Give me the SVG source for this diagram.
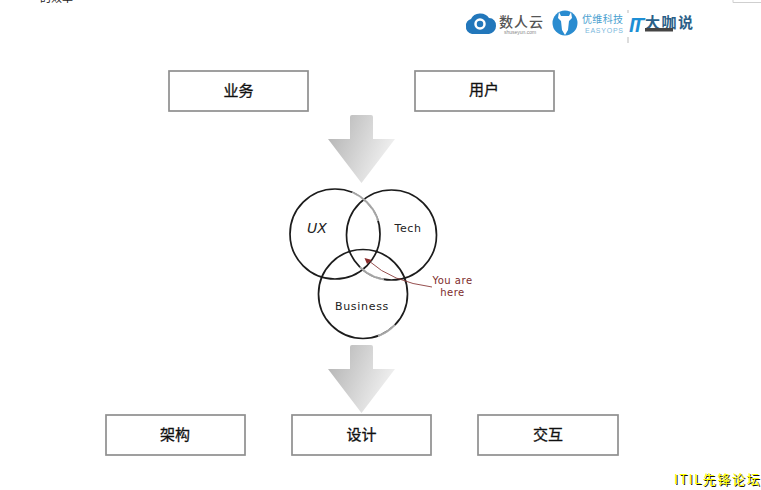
<svg xmlns="http://www.w3.org/2000/svg" width="761" height="490" viewBox="0 0 761 490">
<style>
.box{fill:#fff;stroke:#8f8f8f;stroke-width:1.700}
.lbl{font-family:"Noto Sans CJK SC","Liberation Sans",sans-serif;font-size:15px;font-weight:400;fill:#111;stroke:#111;stroke-width:.3px;text-anchor:middle}
.ring{fill:none;stroke:#1c1c1c;stroke-width:1.700}
.fade{fill:none;stroke:#fff;stroke-width:2.200;opacity:.6}
.hand{font-family:"DejaVu Sans",sans-serif;fill:#222;text-anchor:middle}
.red{font-family:"DejaVu Sans",sans-serif;font-size:10px;fill:#7d2c2c;text-anchor:middle;letter-spacing:.5px}
.itil{font-family:"Noto Sans CJK SC","Liberation Sans",sans-serif;font-size:13px;letter-spacing:1.600px}
</style>
<defs>
<linearGradient id="arrowFill" x1="0" y1="0.2" x2="1" y2="0.6">
<stop offset="0" stop-color="#b4b4b4"/><stop offset="1" stop-color="#f4f4f4"/>
</linearGradient>
<path id="arrow" d="M350 117Q350 115 352 115H371Q373 115 373 117V139H395L361.500 183L328 139H350Z" fill="url(#arrowFill)"/>
</defs>
<rect width="761" height="490" fill="#fff"/>
<text x="40" y="2" font-family="Noto Sans CJK SC,sans-serif" font-size="11" fill="#222">的效率 ·</text>
<path d="M733 0V2.500H761" fill="none" stroke="#cfcfcf"/>
<g id="logo-shuren">
<path d="M472 34A7 7 0 0 1 466 26A6.500 6.500 0 0 1 471 19A10 9 0 0 1 489 18A7 7 0 0 1 496 26A8 8 0 0 1 489 34Z" fill="#2277bb"/>
<circle cx="480" cy="24" r="4.500" fill="none" stroke="#fff" stroke-width="2.500"/>
<text x="499" y="27" font-family="Noto Sans CJK SC,sans-serif" font-size="14" font-weight="500" fill="#555" textLength="44">数人云</text>
<text x="520" y="34" font-family="Liberation Sans,sans-serif" font-size="5" fill="#888" text-anchor="middle">shuseyun.com</text>
</g>
<g id="logo-easyops">
<circle cx="565" cy="23" r="12.500" fill="#2a8cd0"/>
<path d="M559 12L561 16H569L571 12L572 18L569 21L568 30L565 35L562 30L561 21L558 18Z" fill="#fff"/>
<text x="582" y="23" font-family="Noto Sans CJK SC,sans-serif" font-size="10" fill="#4a9fd0" textLength="41">优维科技</text>
<text x="585" y="33" font-family="Liberation Sans,sans-serif" font-size="7" fill="#7ab8dc" textLength="38">EASYOPS</text>
</g>
<path d="M628 10V13M628 37V43" stroke="#bbb"/>
<g id="logo-it">
<text x="629" y="32" font-family="Liberation Sans,sans-serif" font-size="20" font-weight="700" font-style="italic" fill="#1e8fd5" textLength="15">IT</text>
<text x="645" y="28" font-family="Noto Sans CJK SC,sans-serif" font-size="15" font-weight="700" fill="#2a5f88" textLength="48">大咖说</text>
<rect x="645" y="28" width="28" height="3.500" fill="#444"/>
</g>
<g id="connectors">
<use href="#arrow"/>
<use href="#arrow" y="230"/>
</g>
<g id="node-business"><rect class="box" x="169" y="71" width="139" height="40"/><text class="lbl" x="238.500" y="96">业务</text></g>
<g id="node-user"><rect class="box" x="415" y="71" width="139" height="40"/><text class="lbl" x="484" y="95">用户</text></g>
<g id="venn">
<circle class="ring" cx="335" cy="234" r="45"/>
<circle class="ring" cx="391.500" cy="235" r="45"/>
<circle class="ring" cx="363" cy="294" r="44.500"/>
<path class="fade" d="M352 192.500A45 45 0 0 1 378 221"/>
<path class="fade" d="M360 267A45 45 0 0 0 384 279.500"/>
<path class="fade" d="M395 325A44.500 44.500 0 0 1 378 336"/>
<text class="hand" x="317" y="233" font-size="14" font-style="italic">UX</text>
<text class="hand" x="408" y="232" font-size="11" letter-spacing=".6">Tech</text>
<text class="hand" x="362" y="310" font-size="11" letter-spacing=".7">Business</text>
<path d="M369 261Q392 282 432 287" fill="none" stroke="#8a3b3b" stroke-width=".9"/>
<path d="M364.500 258L372 260L367 264Z" fill="#8a2b2b"/>
<text class="red" x="452.500" y="284">You are</text>
<text class="red" x="452.500" y="295.500">here</text>
</g>
<g id="node-arch"><rect class="box" x="106" y="415" width="139" height="40"/><text class="lbl" x="175" y="440">架构</text></g>
<g id="node-design"><rect class="box" x="292" y="415" width="139" height="40"/><text class="lbl" x="361.500" y="440">设计</text></g>
<g id="node-interact"><rect class="box" x="478" y="415" width="140" height="40"/><text class="lbl" x="548" y="440">交互</text></g>
<g id="watermark">
<text class="itil" x="675" y="485" fill="#111">ITIL先锋论坛</text>
<text class="itil" x="674" y="484" fill="#ffff00">ITIL先锋论坛</text>
</g>
</svg>
